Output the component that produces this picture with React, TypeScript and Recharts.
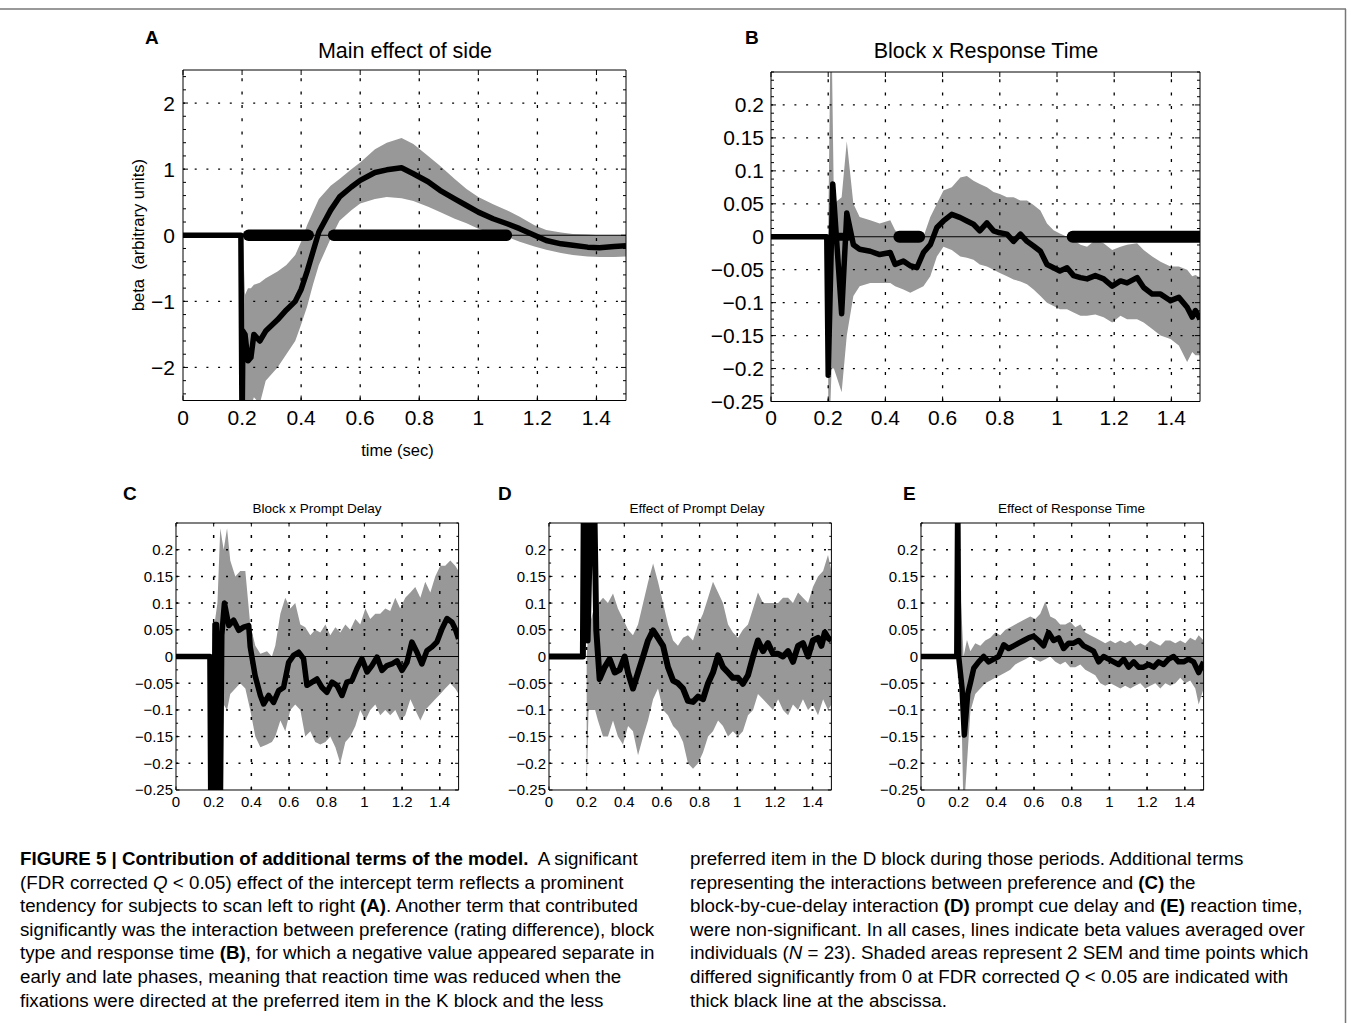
import React from "react";
import { ComposedChart, Area, Line, XAxis, YAxis, ReferenceLine } from "recharts";

const FONT = '"Liberation Sans", Arial, Helvetica, sans-serif';

// shared time axis (sec)
const xMajor = [0, 0.2, 0.4, 0.6, 0.8, 1, 1.2, 1.4];
const yMajorA = [-2, -1, 0, 1, 2];
const yMajorSmall = [-0.25, -0.2, -0.15, -0.1, -0.05, 0, 0.05, 0.1, 0.15, 0.2];

// ---- A: Main effect of side
const aMeanT = [0, 0.196, 0.2, 0.203, 0.21, 0.22, 0.23, 0.24, 0.26, 0.28, 0.32, 0.35, 0.38, 0.4, 0.42, 0.44, 0.46, 0.5, 0.53, 0.57, 0.6, 0.65, 0.69, 0.74, 0.78, 0.83, 0.87, 0.92, 0.96, 1.0, 1.05, 1.1, 1.14, 1.19, 1.23, 1.28, 1.32, 1.37, 1.41, 1.46, 1.5];
const aMeanV = [0, 0, -3, -1.45, -1.5, -1.9, -1.85, -1.5, -1.6, -1.45, -1.28, -1.13, -1.0, -0.82, -0.55, -0.25, 0.05, 0.38, 0.58, 0.73, 0.83, 0.95, 0.99, 1.02, 0.93, 0.81, 0.68, 0.55, 0.45, 0.35, 0.25, 0.17, 0.1, 0.0, -0.08, -0.13, -0.15, -0.18, -0.19, -0.17, -0.16];
const aBandT = [0.2, 0.203, 0.21, 0.22, 0.23, 0.24, 0.26, 0.28, 0.32, 0.35, 0.38, 0.4, 0.42, 0.44, 0.46, 0.5, 0.53, 0.57, 0.6, 0.65, 0.69, 0.74, 0.78, 0.83, 0.87, 0.92, 0.96, 1.0, 1.05, 1.1, 1.14, 1.19, 1.23, 1.28, 1.32, 1.37, 1.41, 1.46, 1.5];
const aBandLo = [-3, -3, -2.6, -2.7, -2.6, -2.45, -2.55, -2.2, -2.0, -1.8, -1.6, -1.35, -1.08, -0.75, -0.45, -0.05, 0.22, 0.38, 0.48, 0.55, 0.58, 0.56, 0.52, 0.43, 0.35, 0.25, 0.18, 0.1, 0.03, -0.03, -0.1, -0.17, -0.22, -0.27, -0.3, -0.32, -0.33, -0.33, -0.32];
const aBandHi = [-0.1, -0.1, -0.9, -0.8, -0.8, -0.75, -0.72, -0.65, -0.55, -0.45, -0.3, -0.1, 0.15, 0.35, 0.55, 0.75, 0.85, 1.0, 1.1, 1.3, 1.4, 1.47, 1.38, 1.2, 1.05, 0.85, 0.7, 0.58, 0.47, 0.37, 0.28, 0.15, 0.08, 0.04, 0.02, 0.01, 0.0, 0.0, 0.0];
const aSig: [number, number][] = [[0.222, 0.424], [0.51, 1.095]];

// ---- B: Block x Response Time
const bMeanT = [0, 0.195, 0.2, 0.216, 0.247, 0.265, 0.288, 0.31, 0.347, 0.38, 0.417, 0.434, 0.463, 0.487, 0.51, 0.533, 0.557, 0.58, 0.603, 0.632, 0.662, 0.685, 0.708, 0.73, 0.755, 0.778, 0.8, 0.825, 0.848, 0.872, 0.895, 0.918, 0.942, 0.965, 0.988, 1.01, 1.035, 1.058, 1.082, 1.105, 1.134, 1.163, 1.193, 1.222, 1.245, 1.28, 1.303, 1.333, 1.362, 1.397, 1.426, 1.455, 1.473, 1.484, 1.5];
const bMeanV = [0, 0, -0.21, 0.08, -0.117, 0.036, -0.012, -0.019, -0.022, -0.027, -0.024, -0.042, -0.037, -0.044, -0.047, -0.024, -0.012, 0.014, 0.024, 0.034, 0.029, 0.024, 0.019, 0.009, 0.021, 0.009, 0.006, 0.004, -0.007, 0.004, -0.007, -0.014, -0.022, -0.042, -0.047, -0.052, -0.047, -0.059, -0.062, -0.064, -0.059, -0.064, -0.075, -0.067, -0.07, -0.062, -0.077, -0.087, -0.087, -0.097, -0.092, -0.107, -0.122, -0.112, -0.125];
const bBandT = [0.2, 0.208, 0.212, 0.22, 0.247, 0.265, 0.288, 0.31, 0.347, 0.38, 0.417, 0.434, 0.463, 0.487, 0.51, 0.533, 0.557, 0.58, 0.603, 0.632, 0.662, 0.685, 0.708, 0.73, 0.755, 0.778, 0.8, 0.825, 0.848, 0.872, 0.895, 0.918, 0.942, 0.965, 0.988, 1.01, 1.035, 1.058, 1.082, 1.105, 1.134, 1.163, 1.193, 1.222, 1.245, 1.28, 1.303, 1.333, 1.362, 1.397, 1.426, 1.455, 1.473, 1.484, 1.5];
const bBandLo = [-0.3, -0.25, -0.2, -0.2, -0.236, -0.15, -0.09, -0.075, -0.07, -0.07, -0.07, -0.075, -0.08, -0.085, -0.08, -0.075, -0.06, -0.03, -0.015, -0.02, -0.03, -0.032, -0.035, -0.042, -0.045, -0.05, -0.055, -0.06, -0.065, -0.068, -0.072, -0.08, -0.09, -0.1, -0.105, -0.11, -0.11, -0.115, -0.12, -0.12, -0.118, -0.122, -0.13, -0.12, -0.125, -0.125, -0.13, -0.14, -0.15, -0.155, -0.165, -0.19, -0.175, -0.18, -0.18];
const bBandHi = [0.0, 0.3, 0.3, 0.05, 0.06, 0.145, 0.05, 0.03, 0.025, 0.02, 0.025, 0.01, 0.0, -0.002, -0.005, 0.0, 0.03, 0.05, 0.07, 0.075, 0.09, 0.092, 0.085, 0.08, 0.075, 0.068, 0.065, 0.06, 0.06, 0.055, 0.055, 0.048, 0.04, 0.02, 0.01, 0.005, 0.0, -0.005, -0.012, -0.015, -0.005, -0.01, -0.02, -0.015, -0.012, -0.01, -0.02, -0.03, -0.038, -0.045, -0.045, -0.05, -0.06, -0.058, -0.062];
const bSig: [number, number][] = [[0.235, 0.27], [0.449, 0.518], [1.055, 1.497]];

// ---- C: Block x Prompt Delay
const cMeanT = [0, 0.18, 0.185, 0.2, 0.207, 0.215, 0.222, 0.235, 0.243, 0.257, 0.28, 0.306, 0.333, 0.359, 0.386, 0.394, 0.42, 0.448, 0.465, 0.492, 0.518, 0.545, 0.571, 0.598, 0.624, 0.651, 0.677, 0.695, 0.722, 0.748, 0.775, 0.801, 0.828, 0.854, 0.881, 0.907, 0.934, 0.96, 0.987, 1.014, 1.04, 1.067, 1.093, 1.12, 1.146, 1.173, 1.2, 1.226, 1.252, 1.279, 1.305, 1.332, 1.359, 1.385, 1.412, 1.438, 1.465, 1.482, 1.5];
const cMeanV = [0, 0, -0.3, -0.3, 0.06, 0.06, -0.3, -0.3, 0.04, 0.1, 0.058, 0.068, 0.049, 0.055, 0.058, 0.018, -0.036, -0.073, -0.089, -0.073, -0.086, -0.064, -0.058, -0.011, 0.002, 0.008, -0.004, -0.054, -0.048, -0.042, -0.058, -0.067, -0.048, -0.054, -0.073, -0.048, -0.045, -0.023, -0.004, -0.029, -0.017, -0.001, -0.026, -0.017, -0.014, -0.008, -0.026, -0.011, 0.027, 0.008, -0.014, 0.011, 0.018, 0.027, 0.052, 0.071, 0.064, 0.052, 0.033];
const cBandT = [0.2, 0.22, 0.235, 0.253, 0.271, 0.288, 0.315, 0.341, 0.368, 0.394, 0.421, 0.448, 0.483, 0.509, 0.527, 0.554, 0.58, 0.607, 0.633, 0.66, 0.686, 0.713, 0.739, 0.766, 0.793, 0.819, 0.846, 0.872, 0.899, 0.925, 0.952, 0.978, 1.005, 1.031, 1.058, 1.084, 1.111, 1.137, 1.164, 1.19, 1.217, 1.244, 1.27, 1.297, 1.323, 1.35, 1.376, 1.403, 1.429, 1.456, 1.482, 1.5];
const cBandLo = [-0.3, -0.3, -0.3, -0.09, -0.1, -0.07, -0.06, -0.05, -0.06, -0.1, -0.15, -0.17, -0.165, -0.16, -0.15, -0.12, -0.14, -0.1, -0.09, -0.1, -0.15, -0.14, -0.16, -0.165, -0.16, -0.15, -0.17, -0.2, -0.16, -0.15, -0.13, -0.1, -0.12, -0.1, -0.09, -0.11, -0.1, -0.11, -0.1, -0.12, -0.11, -0.08, -0.1, -0.12, -0.1, -0.09, -0.08, -0.07, -0.06, -0.05, -0.06, -0.07];
const cBandHi = [0.05, 0.1, 0.24, 0.2, 0.24, 0.18, 0.15, 0.16, 0.16, 0.06, 0.02, 0.005, 0.01, 0.0, 0.02, 0.08, 0.11, 0.09, 0.1, 0.06, 0.055, 0.04, 0.05, 0.045, 0.06, 0.04, 0.055, 0.045, 0.06, 0.05, 0.07, 0.06, 0.09, 0.07, 0.08, 0.08, 0.09, 0.085, 0.11, 0.09, 0.11, 0.12, 0.13, 0.11, 0.14, 0.12, 0.15, 0.17, 0.17, 0.18, 0.17, 0.16];

// ---- D: Effect of Prompt Delay
const dMeanT = [0, 0.18, 0.185, 0.205, 0.222, 0.24, 0.251, 0.269, 0.296, 0.322, 0.349, 0.375, 0.402, 0.42, 0.446, 0.473, 0.5, 0.526, 0.553, 0.579, 0.606, 0.632, 0.659, 0.685, 0.712, 0.738, 0.765, 0.792, 0.818, 0.845, 0.871, 0.898, 0.924, 0.951, 0.977, 1.004, 1.03, 1.057, 1.084, 1.11, 1.137, 1.163, 1.19, 1.217, 1.243, 1.27, 1.296, 1.323, 1.349, 1.376, 1.402, 1.429, 1.447, 1.465, 1.482, 1.5];
const dMeanV = [0, 0, 0.3, 0.03, 0.3, 0.3, 0.05, -0.042, -0.02, -0.005, -0.03, -0.025, 0.0, -0.03, -0.06, -0.03, 0.0, 0.03, 0.049, 0.035, 0.02, -0.02, -0.045, -0.05, -0.06, -0.083, -0.085, -0.075, -0.08, -0.05, -0.03, 0.002, -0.02, -0.03, -0.04, -0.04, -0.051, -0.035, 0.0, 0.03, 0.01, 0.025, 0.005, 0.005, 0.0, 0.01, -0.01, 0.02, 0.025, 0.0, 0.03, 0.035, 0.02, 0.045, 0.035, 0.03];
const dBandT = [0.2, 0.21, 0.245, 0.26, 0.287, 0.313, 0.34, 0.366, 0.393, 0.42, 0.446, 0.473, 0.5, 0.526, 0.553, 0.579, 0.606, 0.632, 0.659, 0.685, 0.712, 0.738, 0.765, 0.792, 0.818, 0.845, 0.871, 0.898, 0.924, 0.951, 0.977, 1.004, 1.03, 1.057, 1.084, 1.11, 1.137, 1.163, 1.19, 1.217, 1.243, 1.27, 1.296, 1.323, 1.349, 1.376, 1.402, 1.429, 1.456, 1.482, 1.5];
const dBandLo = [-0.245, -0.1, -0.1, -0.12, -0.15, -0.15, -0.12, -0.15, -0.165, -0.13, -0.14, -0.185, -0.15, -0.12, -0.08, -0.06, -0.1, -0.11, -0.13, -0.14, -0.16, -0.2, -0.21, -0.2, -0.18, -0.15, -0.14, -0.12, -0.13, -0.15, -0.14, -0.15, -0.14, -0.11, -0.1, -0.07, -0.08, -0.09, -0.1, -0.08, -0.1, -0.11, -0.09, -0.1, -0.08, -0.1, -0.09, -0.11, -0.08, -0.1, -0.09];
const dBandHi = [0.0, 0.05, 0.1, 0.099, 0.11, 0.1, 0.118, 0.09, 0.07, 0.05, 0.04, 0.06, 0.1, 0.139, 0.174, 0.14, 0.1, 0.06, 0.03, 0.02, 0.035, 0.04, 0.03, 0.06, 0.08, 0.11, 0.14, 0.12, 0.1, 0.06, 0.045, 0.035, 0.05, 0.06, 0.09, 0.12, 0.1, 0.1, 0.1, 0.1, 0.11, 0.11, 0.1, 0.12, 0.11, 0.1, 0.13, 0.15, 0.16, 0.19, 0.16];

// ---- E: Effect of Response Time
const eMeanT = [0, 0.19, 0.195, 0.2, 0.218, 0.23, 0.248, 0.262, 0.28, 0.306, 0.333, 0.359, 0.386, 0.412, 0.439, 0.465, 0.492, 0.518, 0.545, 0.571, 0.598, 0.624, 0.651, 0.677, 0.704, 0.731, 0.757, 0.784, 0.81, 0.837, 0.863, 0.89, 0.916, 0.943, 0.969, 0.996, 1.022, 1.049, 1.076, 1.102, 1.129, 1.155, 1.182, 1.208, 1.235, 1.261, 1.288, 1.314, 1.341, 1.367, 1.394, 1.42, 1.447, 1.474, 1.5];
const eMeanV = [0, 0, 0.3, 0.0, -0.06, -0.147, -0.07, -0.05, -0.022, -0.01, 0.0, -0.01, -0.005, 0.0, 0.022, 0.015, 0.02, 0.025, 0.03, 0.035, 0.038, 0.03, 0.02, 0.045, 0.03, 0.035, 0.015, 0.025, 0.025, 0.03, 0.02, 0.015, 0.01, -0.01, 0.0, -0.005, -0.01, -0.015, -0.005, -0.02, -0.01, -0.02, -0.02, -0.015, -0.02, -0.01, -0.015, -0.005, 0.0, -0.01, -0.01, -0.005, -0.01, -0.03, -0.01];
const eBandT = [0.209, 0.226, 0.244, 0.262, 0.288, 0.315, 0.341, 0.368, 0.394, 0.421, 0.448, 0.474, 0.5, 0.527, 0.554, 0.58, 0.607, 0.633, 0.66, 0.686, 0.713, 0.739, 0.766, 0.792, 0.819, 0.846, 0.872, 0.899, 0.925, 0.952, 0.978, 1.005, 1.031, 1.058, 1.084, 1.111, 1.137, 1.164, 1.19, 1.217, 1.244, 1.27, 1.297, 1.323, 1.35, 1.376, 1.403, 1.429, 1.456, 1.474, 1.5];
const eBandLo = [0.0, -0.3, -0.2, -0.103, -0.07, -0.06, -0.05, -0.045, -0.04, -0.035, -0.03, -0.025, -0.015, -0.01, -0.005, 0.0, -0.005, -0.01, -0.005, 0.0, -0.01, -0.015, -0.01, -0.02, -0.02, -0.015, -0.025, -0.03, -0.035, -0.05, -0.055, -0.05, -0.055, -0.06, -0.055, -0.06, -0.055, -0.05, -0.06, -0.055, -0.05, -0.06, -0.05, -0.055, -0.05, -0.04, -0.05, -0.045, -0.06, -0.09, -0.06];
const eBandHi = [0.128, 0.0, 0.031, 0.01, 0.025, 0.02, 0.03, 0.035, 0.045, 0.04, 0.05, 0.055, 0.06, 0.065, 0.07, 0.075, 0.07, 0.08, 0.103, 0.075, 0.07, 0.06, 0.06, 0.065, 0.055, 0.06, 0.045, 0.04, 0.035, 0.03, 0.025, 0.03, 0.025, 0.03, 0.025, 0.03, 0.02, 0.025, 0.02, 0.03, 0.025, 0.02, 0.03, 0.03, 0.025, 0.03, 0.025, 0.035, 0.03, 0.04, 0.03];

// caption, one entry per printed line: [text, style]
type Run = [string, string];
const captionLeft: Run[][] = [
  [["FIGURE 5 | Contribution of additional terms of the model.", "b"], ["  A significant", ""]],
  [["(FDR corrected ", ""], ["Q", "i"], [" < 0.05) effect of the intercept term reflects a prominent", ""]],
  [["tendency for subjects to scan left to right ", ""], ["(A)", "b"], [". Another term that contributed", ""]],
  [["significantly was the interaction between preference (rating difference), block", ""]],
  [["type and response time ", ""], ["(B)", "b"], [", for which a negative value appeared separate in", ""]],
  [["early and late phases, meaning that reaction time was reduced when the", ""]],
  [["fixations were directed at the preferred item in the K block and the less", ""]],
];
const captionRight: Run[][] = [
  [["preferred item in the D block during those periods. Additional terms", ""]],
  [["representing the interactions between preference and ", ""], ["(C)", "b"], [" the", ""]],
  [["block-by-cue-delay interaction ", ""], ["(D)", "b"], [" prompt cue delay and ", ""], ["(E)", "b"], [" reaction time,", ""]],
  [["were non-significant. In all cases, lines indicate beta values averaged over", ""]],
  [["individuals (", ""], ["N", "i"], [" = 23). Shaded areas represent 2 SEM and time points which", ""]],
  [["differed significantly from 0 at FDR corrected ", ""], ["Q", "i"], [" < 0.05 are indicated with", ""]],
  [["thick black line at the abscissa.", ""]],
];

const fmt = (v: number) => (v < 0 ? "\u2212" + String(-v) : String(v));
const near = (list: number[], v: number) => list.some((m) => Math.abs(m - v) < 1e-6);

function stepTicks(lo: number, hi: number, step: number) {
  const out: number[] = [];
  for (let k = Math.ceil(lo / step - 1e-9); k * step <= hi + 1e-9; k++) {
    out.push(Math.round(k * step * 1e6) / 1e6);
  }
  return out;
}

type Box = { l: number; t: number; r: number; b: number };
type PanelProps = {
  box: Box;
  yDomain: [number, number];
  yMajor: number[];
  yStep: number;
  tickFs: number;
  yGap: number;
  xGap: number;
  tickLen: number;
  meanT: number[];
  meanV: number[];
  bandT: number[];
  bandLo: number[];
  bandHi: number[];
  sig: [number, number][];
  sigW: number[];
  meanW: number;
  dotW: number;
  hDash: string;
  vDash: string;
};

function Panel(p: PanelProps) {
  const padL = 80, padR = 15, padT = 10, padB = 40;
  const w = p.box.r - p.box.l;
  const h = p.box.b - p.box.t;
  const mean = p.meanT.map((t, i) => ({ t, v: p.meanV[i] }));
  const band = p.bandT.map((t, i) => ({ t, band: [p.bandLo[i], p.bandHi[i]] }));
  const yTicks = stepTicks(p.yDomain[0], p.yDomain[1], p.yStep);
  const len = p.tickLen;

  const leftTick = (props: any) => {
    const { x, y, payload } = props;
    const major = near(p.yMajor, payload.value);
    return (
      <g>
        <line x1={x} y1={y} x2={x + (major ? len : len * 0.6)} y2={y} stroke="#000" />
        {major && (
          <text x={x - p.yGap} y={y} textAnchor="end" dominantBaseline="central" fontSize={p.tickFs} fontFamily={FONT} fill="#000">
            {fmt(payload.value)}
          </text>
        )}
      </g>
    );
  };
  const rightTick = (props: any) => {
    const { x, y, payload } = props;
    const major = near(p.yMajor, payload.value);
    return <line x1={x} y1={y} x2={x - (major ? len : len * 0.6)} y2={y} stroke="#000" />;
  };
  const bottomTick = (props: any) => {
    const { x, y, payload } = props;
    return (
      <g>
        <line x1={x} y1={y} x2={x} y2={y - len} stroke="#000" />
        <text x={x} y={y + p.xGap} textAnchor="middle" dominantBaseline="central" fontSize={p.tickFs} fontFamily={FONT} fill="#000">
          {fmt(payload.value)}
        </text>
      </g>
    );
  };
  const topTick = (props: any) => {
    const { x, y } = props;
    return <line x1={x} y1={y} x2={x} y2={y + len} stroke="#000" />;
  };

  // axes get 1px of room each so that Recharts draws them; margins shrink to match
  return (
    <div style={{ position: "absolute", left: p.box.l - padL, top: p.box.t - padT }}>
      <ComposedChart width={w + padL + padR} height={h + padT + padB}
        margin={{ left: padL - 1, right: padR - 1, top: padT - 1, bottom: padB - 1 }}>
        <XAxis dataKey="t" type="number" domain={[0, 1.5]} ticks={xMajor} interval={0} allowDataOverflow
          height={1} tickSize={0} tickMargin={0} tickLine={false} axisLine={{ stroke: "#000" }} tick={bottomTick} />
        <XAxis xAxisId="top" orientation="top" dataKey="t" type="number" domain={[0, 1.5]} ticks={xMajor} interval={0} allowDataOverflow
          height={1} tickSize={0} tickMargin={0} tickLine={false} axisLine={{ stroke: "#000" }} tick={topTick} />
        <YAxis type="number" domain={p.yDomain} ticks={yTicks} interval={0} allowDataOverflow
          width={1} tickSize={0} tickMargin={0} tickLine={false} axisLine={{ stroke: "#000" }} tick={leftTick} />
        <YAxis yAxisId="right" orientation="right" type="number" domain={p.yDomain} ticks={yTicks} interval={0} allowDataOverflow
          width={1} tickSize={0} tickMargin={0} tickLine={false} axisLine={{ stroke: "#000" }} tick={rightTick} />
        <Area data={band} dataKey="band" type="linear" stroke="none" fill="#989898" fillOpacity={1}
          dot={false} activeDot={false} isAnimationActive={false} />
        {xMajor.filter((v) => v > 0).map((v) => (
          <ReferenceLine key={"gx" + v} x={v} stroke="#000" strokeWidth={p.dotW} strokeDasharray={p.vDash} />
        ))}
        {p.yMajor.filter((v) => v > p.yDomain[0] && v < p.yDomain[1] && v !== 0).map((v) => (
          <ReferenceLine key={"gy" + v} y={v} stroke="#000" strokeWidth={p.dotW} strokeDasharray={p.hDash} />
        ))}
        <ReferenceLine y={0} stroke="#000" strokeWidth={1} />
        <Line data={mean} dataKey="v" type="linear" stroke="#000" strokeWidth={p.meanW} strokeLinejoin="round"
          dot={false} activeDot={false} isAnimationActive={false} />
        {p.sig.map((s, k) => (
          <Line key={"sig" + k} data={[{ t: s[0], v: 0 }, { t: s[1], v: 0 }]} dataKey="v" type="linear" stroke="#000"
            strokeWidth={p.sigW[k]} strokeLinecap="round" dot={false} activeDot={false} isAnimationActive={false} />
        ))}
      </ComposedChart>
    </div>
  );
}

const bigStyle = { tickFs: 21, tickLen: 5, dotW: 1.3, hDash: "2 9.7", vDash: "3 10.3" };
const smallStyle = { tickFs: 15, tickLen: 3.5, dotW: 1.5, hDash: "2 10.5", vDash: "3 11" };

function CaptionLine({ runs, x, y }: { runs: Run[]; x: number; y: number }) {
  return (
    <text transform={`translate(${x},${y}) scale(1.07,1)`} fontSize={17.5} fontFamily={FONT} fill="#000" style={{ whiteSpace: "pre" }}>
      {runs.map(([s, st], i) => (
        <tspan key={i} fontWeight={st === "b" ? "bold" : "normal"} fontStyle={st === "i" ? "italic" : "normal"}>
          {s}
        </tspan>
      ))}
    </text>
  );
}

export default function App() {
  const capTop = 865;
  const capStep = 23.6;
  return (
    <div style={{ position: "absolute", left: 0, top: 0, width: 1351, height: 1023, background: "#fff", fontFamily: FONT }}>
      <Panel box={{ l: 183, t: 70, r: 626, b: 400.5 }} yDomain={[-2.5, 2.5]} yMajor={yMajorA} yStep={0.2}
        yGap={8} xGap={17} meanT={aMeanT} meanV={aMeanV} bandT={aBandT} bandLo={aBandLo} bandHi={aBandHi}
        sig={aSig} sigW={[11.5, 11.5]} meanW={5.5} {...bigStyle} />
      <Panel box={{ l: 771, t: 71.5, r: 1200, b: 401 }} yDomain={[-0.25, 0.25]} yMajor={yMajorSmall} yStep={0.0125}
        yGap={7} xGap={16} meanT={bMeanT} meanV={bMeanV} bandT={bBandT} bandLo={bBandLo} bandHi={bBandHi}
        sig={bSig} sigW={[8, 12, 12]} meanW={5.5} {...bigStyle} />
      <Panel box={{ l: 175.7, t: 522.5, r: 458.3, b: 789.5 }} yDomain={[-0.25, 0.25]} yMajor={yMajorSmall} yStep={0.025}
        yGap={3} xGap={12} meanT={cMeanT} meanV={cMeanV} bandT={cBandT} bandLo={cBandLo} bandHi={cBandHi}
        sig={[]} sigW={[]} meanW={5.5} {...smallStyle} />
      <Panel box={{ l: 549.3, t: 522.5, r: 831.7, b: 789.5 }} yDomain={[-0.25, 0.25]} yMajor={yMajorSmall} yStep={0.025}
        yGap={3} xGap={12} meanT={dMeanT} meanV={dMeanV} bandT={dBandT} bandLo={dBandLo} bandHi={dBandHi}
        sig={[]} sigW={[]} meanW={6} {...smallStyle} />
      <Panel box={{ l: 920.7, t: 522.5, r: 1203.3, b: 789.5 }} yDomain={[-0.25, 0.25]} yMajor={yMajorSmall} yStep={0.025}
        yGap={3} xGap={12} meanT={eMeanT} meanV={eMeanV} bandT={eBandT} bandLo={eBandLo} bandHi={eBandHi}
        sig={[]} sigW={[]} meanW={5.5} {...smallStyle} />

      <svg width={1351} height={1023} style={{ position: "absolute", left: 0, top: 0, pointerEvents: "none" }}>
        <line x1={0} y1={9} x2={1346} y2={9} stroke="#777" strokeWidth={1.5} />
        <line x1={1345.5} y1={9} x2={1345.5} y2={1023} stroke="#777" strokeWidth={1.5} />

        <g fontFamily={FONT} fontWeight="bold" fontSize={19} fill="#000">
          <text x={145} y={44}>A</text>
          <text x={745} y={43.5}>B</text>
          <text x={123} y={499.5}>C</text>
          <text x={498} y={499.5}>D</text>
          <text x={903} y={499.5}>E</text>
        </g>

        <g fontFamily={FONT} fill="#000" textAnchor="middle">
          <text x={405} y={58} fontSize={21.5}>Main effect of side</text>
          <text x={986} y={58} fontSize={21.5}>Block x Response Time</text>
          <text x={317} y={512.5} fontSize={13.5}>Block x Prompt Delay</text>
          <text x={697} y={512.5} fontSize={13.5}>Effect of Prompt Delay</text>
          <text x={1071.5} y={512.5} fontSize={13.5}>Effect of Response Time</text>
          <text x={397.5} y={456} fontSize={16.5}>time (sec)</text>
          <text transform="translate(137.5,235) rotate(-90)" fontSize={16.5} dominantBaseline="central" style={{ whiteSpace: "pre" }}>
            beta  (arbitrary units)
          </text>
        </g>

        {captionLeft.map((runs, i) => (
          <CaptionLine key={"l" + i} runs={runs} x={20} y={capTop + i * capStep} />
        ))}
        {captionRight.map((runs, i) => (
          <CaptionLine key={"r" + i} runs={runs} x={690} y={capTop + i * capStep} />
        ))}
      </svg>
    </div>
  );
}
